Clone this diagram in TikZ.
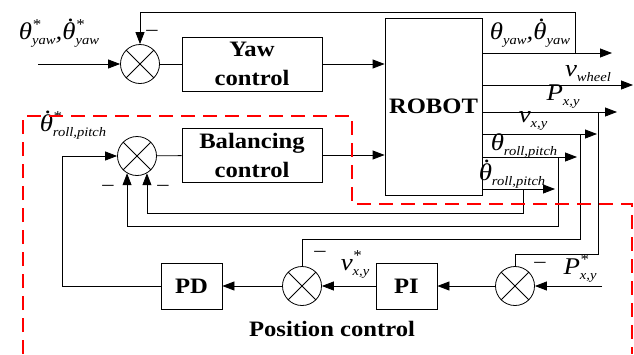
\documentclass[tikz,border=0pt]{standalone}
\usepackage{fontspec}
\setmainfont{Liberation Serif}[FakeStretch=1.12]
\usetikzlibrary{positioning,arrows.meta}

% label pieces (text mode, Times-like)
\newcommand{\lsub}[1]{\raisebox{-5pt}{\fontsize{13}{13}\selectfont\itshape #1}}
\newcommand{\lstar}{\raisebox{10pt}{\fontsize{15}{15}\selectfont *}}
\newcommand{\lstarsub}[1]{\rlap{\lstar}\lsub{#1}}
\newcommand{\thd}{\ooalign{θ\cr\hidewidth\kern0.18em\raisebox{0.74em}{.}\hidewidth\cr}}

\begin{document}
\begin{tikzpicture}[x=1pt, y=-1pt, >={Triangle[length=12pt,width=9pt]}, line width=0.8pt,
  every node/.style={font=\fontsize{24}{26}\selectfont\itshape, inner sep=1pt},
  block/.style={draw, align=center, inner sep=0pt, font=\fontsize{22}{29}\selectfont\bfseries\upshape},
  sumnode/.style={draw, circle, minimum size=39pt, inner sep=0pt,
    path picture={\draw (path picture bounding box.south west) -- (path picture bounding box.north east)
      (path picture bounding box.north west) -- (path picture bounding box.south east);}},
  minus/.style={font=\fontsize{20}{20}\selectfont\upshape},
  zone/.style={draw=red, line width=1.8pt, dash pattern=on 14pt off 8pt}]
\useasboundingbox (0,0) rectangle (634,354);

% blocks
\node[block, minimum width=140pt, minimum height=54pt] (yaw) at (252,64) {Yaw\\control};
\node[block, minimum width=140pt, minimum height=54pt] (bal) at (252,155) {Balancing\\control};
\node[block, minimum width=97pt, minimum height=177pt] (robot) at (433.5,106.5) {ROBOT};
\node[block, minimum width=61pt, minimum height=46pt] (pd) at (191.5,286) {PD};
\node[block, minimum width=61pt, minimum height=46pt] (pi) at (406.5,286) {PI};
\node[sumnode] (sumY) at (140,64) {};
\node[sumnode] (sumB) at (137,156) {};
\node[sumnode] (sumV) at (302,286) {};
\node[sumnode] (sumP) at (515,286) {};

% free ends
\coordinate (yawin) at (38,64);
\coordinate (pin) at (602,286);
\coordinate (oyaw) at (612,53);
\coordinate (owheel) at (633,85);
\coordinate (opos) at (617,112);
\coordinate (ovel) at (597,134);
\coordinate (oang) at (577,157);
\coordinate (orate) at (555,189);
\coordinate (fbyaw) at (575,53);
\coordinate (fbpos) at (598,112);
\coordinate (fbvel) at (580,134);
\coordinate (fbang) at (558,157);
\coordinate (fbrate) at (523,189);

% forward paths
\draw[->] (yawin) -- (sumY);
\draw (sumY) -- (yaw);
\draw[->] (yaw.east) -- (yaw.east -| robot.west);
\draw (sumB) -- (bal);
\draw[->] (bal.east) -- (bal.east -| robot.west);
\draw[->] (pin) -- (sumP);
\draw[->] (sumP) -- (pi);
\draw[->] (pi) -- (sumV);
\draw[->] (sumV) -- (pd);
\draw[->] (pd.west) -- ++(-98,0) |- (sumB.west);

% outputs
\draw[->] (robot.east |- oyaw) -- (oyaw);
\draw[->] (robot.east |- owheel) -- (owheel);
\draw[->] (robot.east |- opos) -- (opos);
\draw[->] (robot.east |- ovel) -- (ovel);
\draw[->] (robot.east |- oang) -- (oang);
\draw[->] (robot.east |- orate) -- (orate);

% feedback
\draw[->] (fbyaw) -- ++(0,-41) -| (sumY);
\draw[->] (fbrate) |- ([yshift=-40pt]sumB.-60) -- (sumB.-60);
\draw[->] (fbang) |- ([yshift=-53pt]sumB.-120) -- (sumB.-120);
\draw (fbvel) |- ([yshift=26.5pt]sumV.north) -- (sumV.north);
\draw (fbpos) |- ([yshift=11.5pt]sumP.north) -- (sumP.north);

% labels
\node (lyawref) at (59,33) {θ\lstarsub{yaw},\thd\lstarsub{yaw}};
\node (lyaw) at (530,35) {θ\lsub{yaw},\thd\lsub{yaw}};
\node (lwheel) at (588,74) {v\lsub{wheel}};
\node (lpos) at (563,97) {P\lsub{x,y}};
\node (lvel) at (533,121) {v\lsub{x,y}};
\node (lang) at (524,146) {θ\lsub{roll,pitch}};
\node (lrate) at (512,176) {\thd\lsub{roll,pitch}};
\node (langref) at (73,125) {\thd\lstarsub{roll,pitch}};
\node (lvelref) at (355,264) {v\lstarsub{x,y}};
\node (lposref) at (580,268) {P\lstarsub{x,y}};
\node[minus] (mY) at (152,33) {–};
\node[minus] (mB1) at (108,188) {–};
\node[minus] (mB2) at (163,188) {–};
\node[minus] (mV) at (320,254) {–};
\node[minus] (mP) at (540,265) {–};
\node[font=\fontsize{22}{24}\selectfont\bfseries\upshape] (lposctrl) at (332,329) {Position control};

% balancing zone
\draw[zone] (23,354) -- (23,116) -- (352,116) -- (352,204) -- (632,204) -- (632,354);
\end{tikzpicture}
\end{document}
